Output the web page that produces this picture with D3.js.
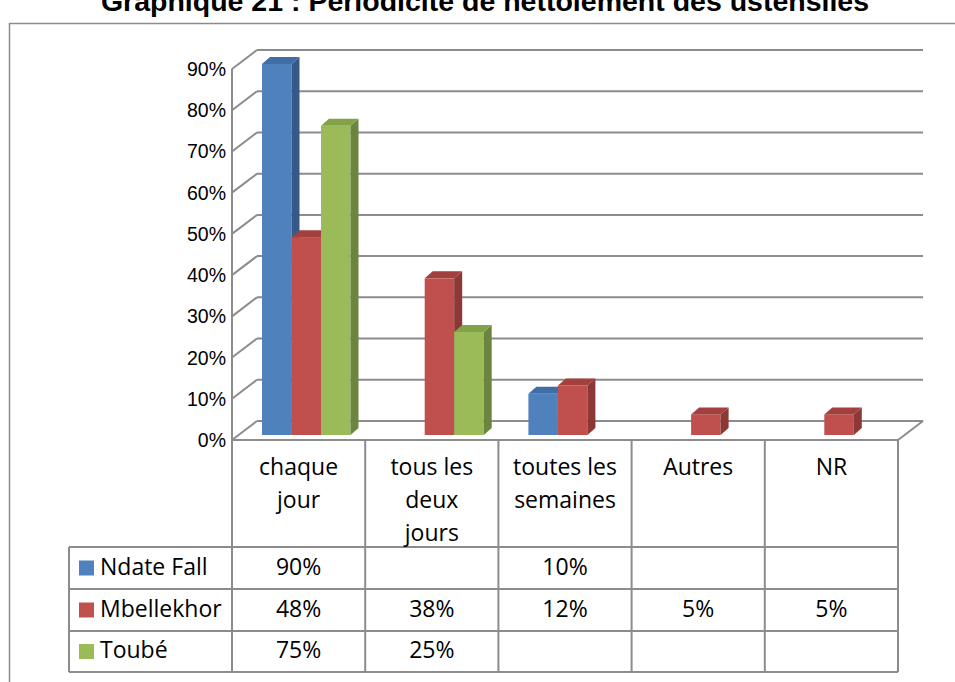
<!DOCTYPE html>
<html>
<head>
<meta charset="utf-8">
<script src="https://cdn.jsdelivr.net/npm/d3@7"></script>
<style>
  body { margin: 0; background: #fff; }
  svg { display: block; }
</style>
</head>
<body>
<svg id="viz"></svg>
<script>
// ---------------------------
// Data
// ---------------------------

const title = "Graphique 21 : Périodicité de nettoiement des ustensiles";

const categories = ["chaque\njour", "tous les\ndeux\njours", "toutes les\nsemaines", "Autres", "NR"];

const seriesNames = ["Ndate Fall", "Mbellekhor", "Toubé"];

const ndateFall  = [90, null, 10, null, null];
const mbellekhor = [48, 38, 12, 5, 5];
const toube      = [75, 25, null, null, null];

const yTicks = [0, 10, 20, 30, 40, 50, 60, 70, 80, 90];

// ---------------------------
// Create SVG
// ---------------------------

const width = 955;
const height = 682;

const svg = d3.select("#viz")
    .attr("width", width)
    .attr("height", height);

const seriesValues = [ndateFall, mbellekhor, toube];
const colors = [
    {front: "#4F81BD", top: "#3F6DA6", side: "#36598A"},
    {front: "#C0504D", top: "#A33F3C", side: "#8B3836"},
    {front: "#9BBB59", top: "#82A248", side: "#6B8540"}
];

const gridColor = "#8c8c8c";

// outer frame
svg.append("rect")
    .attr("x", 9.5).attr("y", 23.5)
    .attr("width", 960).attr("height", 700)
    .attr("fill", "none")
    .attr("stroke", gridColor)
    .attr("stroke-width", 1.5);

// title (cut at the top, like the source)
svg.append("text")
    .attr("x", 485).attr("y", 11)
    .attr("text-anchor", "middle")
    .attr("font-family", "Liberation Sans, Arial, sans-serif")
    .attr("font-weight", "bold")
    .attr("font-size", 28.5)
    .attr("fill", "#000")
    .text(title);

// ---------------------------
// Scales
// ---------------------------

const x = d3.scaleBand()
    .domain(d3.range(categories.length))
    .range([232, 898]);

const y = d3.scaleLinear()
    .domain([0, 90])
    .range([440, 69]);

// wall depth and bar offsets
const depthX = 25, depthY = -19;
const barOffX = 6, barOffY = -5;
const barDX = 8, barDY = -7;

const inner = d3.scaleBand()
    .domain(d3.range(seriesNames.length))
    .range([24, 112.5]);

// ---------------------------
// Walls and gridlines
// ---------------------------

const walls = svg.append("g")
    .attr("stroke", gridColor)
    .attr("stroke-width", 2)
    .attr("fill", "none");

// back wall gridlines
walls.selectAll(".grid")
    .data(yTicks)
    .join("line")
    .attr("x1", x.range()[0] + depthX)
    .attr("x2", x.range()[1] + depthX)
    .attr("y1", d => y(d) + depthY)
    .attr("y2", d => y(d) + depthY);

// side wall diagonals
walls.selectAll(".diag")
    .data(yTicks)
    .join("line")
    .attr("x1", x.range()[0])
    .attr("x2", x.range()[0] + depthX)
    .attr("y1", d => y(d))
    .attr("y2", d => y(d) + depthY);

// side wall front edge
walls.append("line")
    .attr("x1", x.range()[0]).attr("x2", x.range()[0])
    .attr("y1", y(90)).attr("y2", y(0));

// floor right edge
walls.append("line")
    .attr("x1", x.range()[1]).attr("x2", x.range()[1] + depthX)
    .attr("y1", y(0)).attr("y2", y(0) + depthY);

// y labels
svg.append("g")
    .selectAll("text")
    .data(yTicks)
    .join("text")
    .attr("x", 226)
    .attr("y", d => y(d) + 7)
    .attr("text-anchor", "end")
    .attr("font-family", "Liberation Sans, Arial, sans-serif")
    .attr("font-size", 19.5)
    .attr("fill", "#000")
    .text(d => d + "%");

// ---------------------------
// Bars
// ---------------------------

const bars = svg.append("g");

categories.forEach((c, ci) => {
    seriesValues.forEach((vals, si) => {
        const v = vals[ci];
        if (v == null) return;
        const col = colors[si];
        const x0 = x(ci) + barOffX + inner(si);
        const x1 = x0 + inner.bandwidth();
        const yb = y(0) + barOffY;
        const yt = y(v) + barOffY;

        bars.append("rect")
            .attr("x", x0).attr("y", yt)
            .attr("width", x1 - x0).attr("height", yb - yt)
            .attr("fill", col.front);

        bars.append("path")
            .attr("d", `M${x1},${yb} L${x1},${yt} L${x1 + barDX},${yt + barDY} L${x1 + barDX},${yb + barDY} Z`)
            .attr("fill", col.side);

        bars.append("path")
            .attr("d", `M${x0},${yt} L${x0 + barDX},${yt + barDY} L${x1 + barDX},${yt + barDY} L${x1},${yt} Z`)
            .attr("fill", col.top);
    });
});

// ---------------------------
// Data table
// ---------------------------

const tableFont = "Open Sans, Noto Sans, sans-serif";
const tableSize = 23;

const headerTop = 440;
const rowY = [547, 589, 631, 672];
const legendLeft = 69;

const table = svg.append("g")
    .attr("stroke", gridColor)
    .attr("stroke-width", 2)
    .attr("fill", "none");

// header top line
table.append("line")
    .attr("x1", x.range()[0]).attr("x2", x.range()[1])
    .attr("y1", headerTop).attr("y2", headerTop);

// row horizontal lines
table.selectAll(".rowline")
    .data(rowY)
    .join("line")
    .attr("x1", legendLeft).attr("x2", x.range()[1])
    .attr("y1", d => d).attr("y2", d => d);

// column vertical lines
table.selectAll(".colline")
    .data(d3.range(categories.length + 1))
    .join("line")
    .attr("x1", d => x.range()[0] + d * x.bandwidth())
    .attr("x2", d => x.range()[0] + d * x.bandwidth())
    .attr("y1", headerTop).attr("y2", rowY[rowY.length - 1]);

// legend column left edge
table.append("line")
    .attr("x1", legendLeft).attr("x2", legendLeft)
    .attr("y1", rowY[0]).attr("y2", rowY[rowY.length - 1]);

// header labels
const headerBaselines = [475, 508, 541];
categories.forEach((c, ci) => {
    c.split("\n").forEach((line, li) => {
        svg.append("text")
            .attr("x", x(ci) + x.bandwidth() / 2)
            .attr("y", headerBaselines[li])
            .attr("text-anchor", "middle")
            .attr("font-family", tableFont)
            .attr("font-size", tableSize)
            .attr("fill", "#000")
            .text(line);
    });
});

// rows
const rowBaselines = [575, 617, 658];
seriesNames.forEach((name, si) => {
    const cy = (rowY[si] + rowY[si + 1]) / 2;
    svg.append("rect")
        .attr("x", 79).attr("y", cy - 7.5)
        .attr("width", 15).attr("height", 15)
        .attr("fill", colors[si].front);

    svg.append("text")
        .attr("x", 100)
        .attr("y", rowBaselines[si])
        .attr("font-family", tableFont)
        .attr("font-size", tableSize)
        .attr("fill", "#000")
        .text(name);

    seriesValues[si].forEach((v, ci) => {
        if (v == null) return;
        svg.append("text")
            .attr("x", x(ci) + x.bandwidth() / 2)
            .attr("y", rowBaselines[si])
            .attr("text-anchor", "middle")
            .attr("font-family", tableFont)
            .attr("font-size", tableSize)
            .attr("fill", "#000")
            .text(v + "%");
    });
});
</script>
</body>
</html>
